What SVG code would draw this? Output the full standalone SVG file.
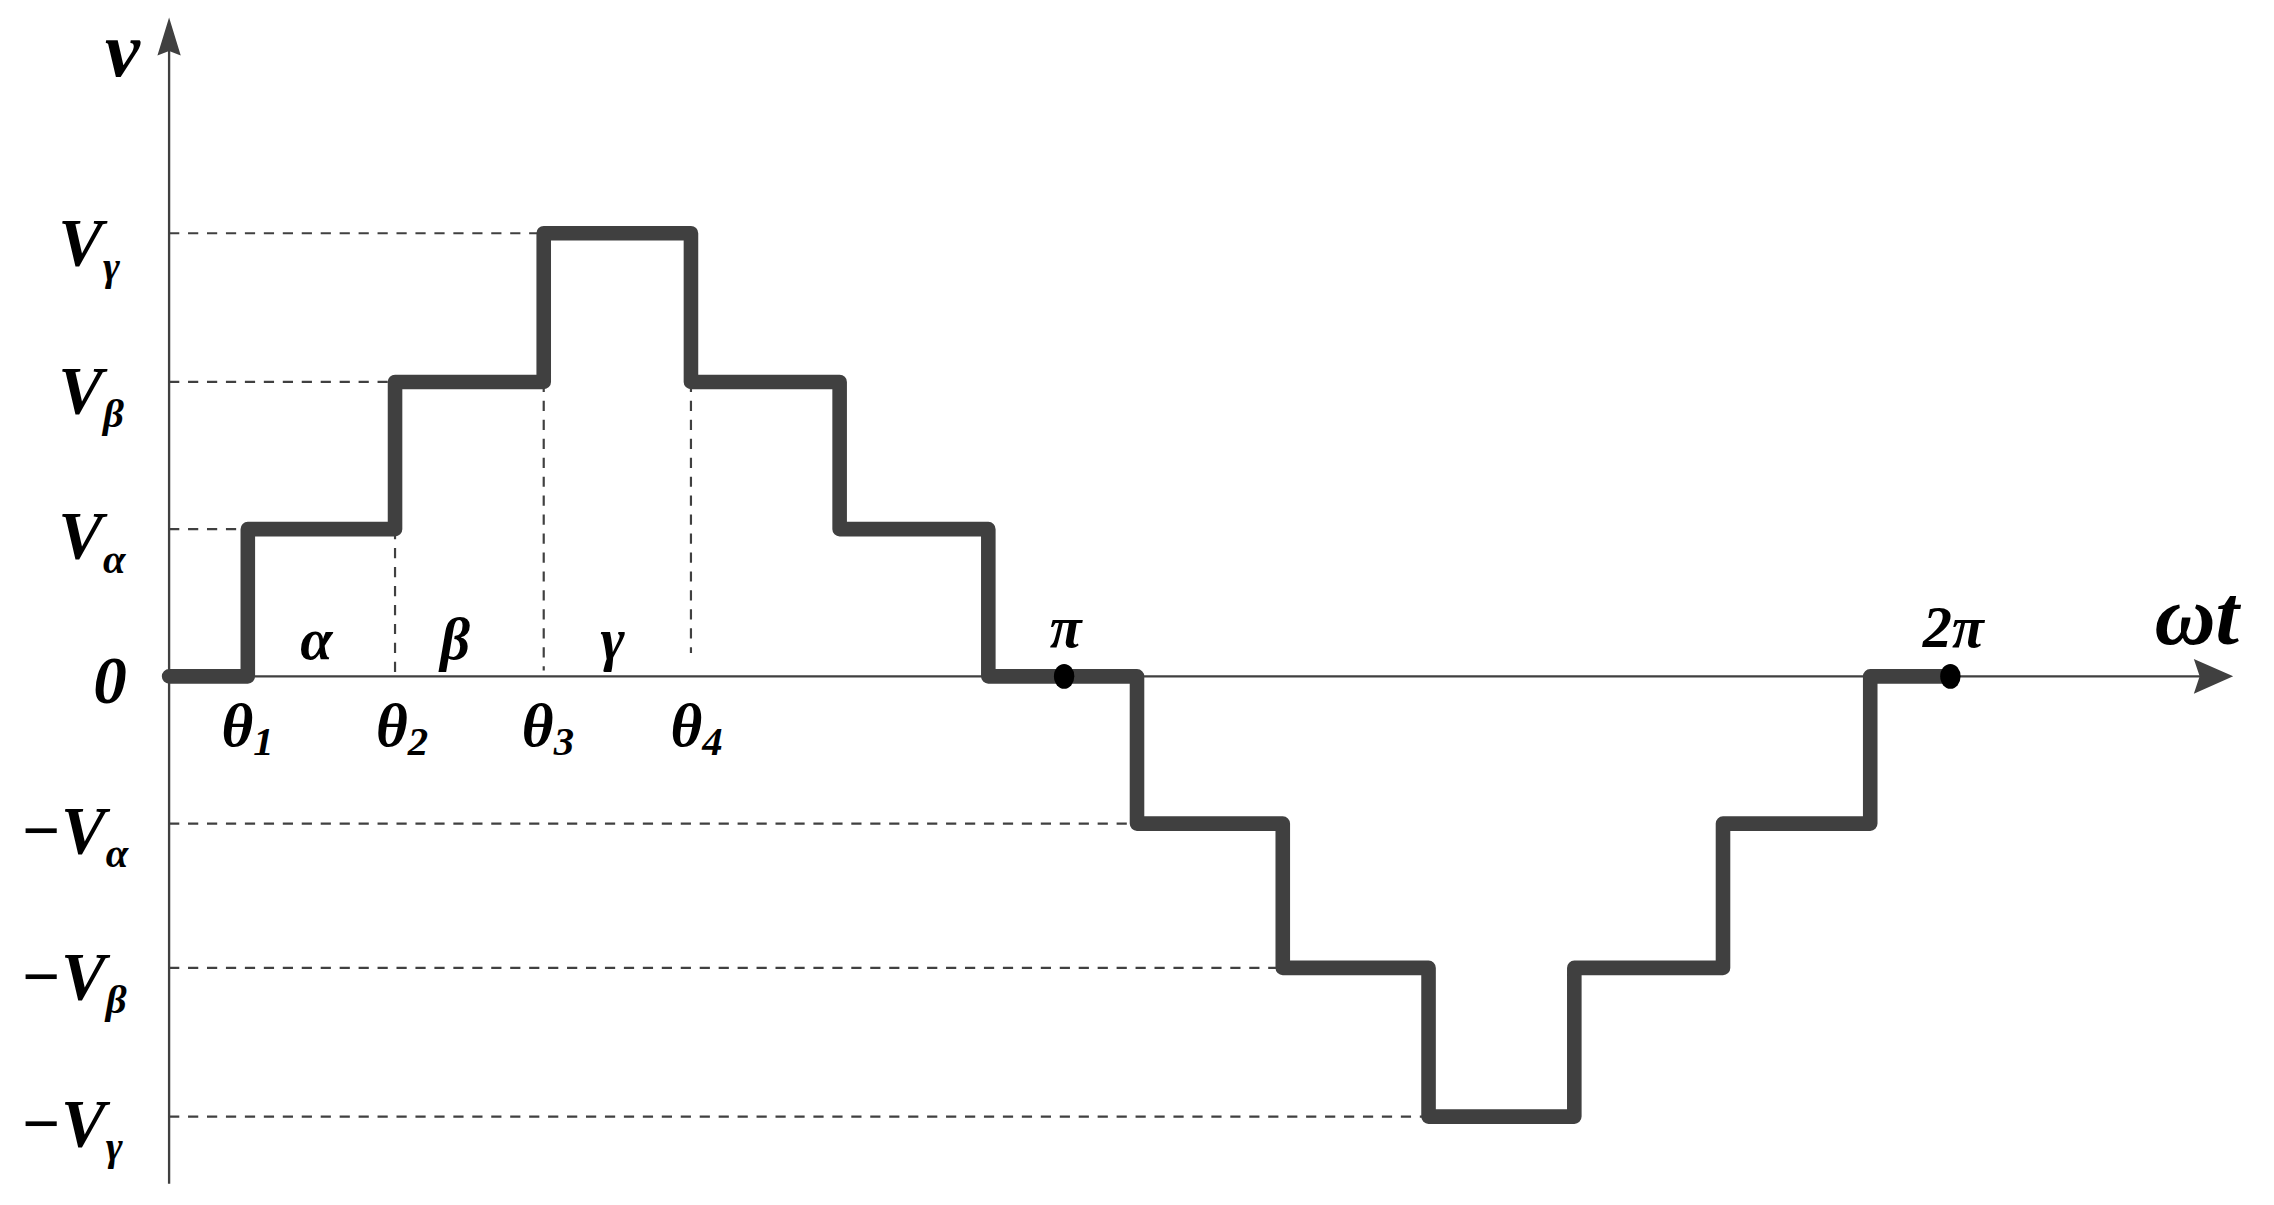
<svg xmlns="http://www.w3.org/2000/svg" width="2274" height="1205" viewBox="0 0 2274 1205">
<style>
.ax{stroke:#404040;stroke-width:1.6;fill:none}
.dash{stroke:#404040;stroke-width:1.5;stroke-dasharray:7,6;fill:none}
.wave{stroke:#404040;stroke-width:10;fill:none;stroke-linejoin:round;stroke-linecap:round}
.t{font-family:"Liberation Serif",serif;font-style:italic;font-weight:bold;fill:#000}
</style>
<rect width="2274" height="1205" fill="#fff"/>
<g transform="scale(1.4577)">
<g id="axes">
<line class="ax" x1="116" y1="812" x2="116" y2="30"/>
<polygon points="108,38 116,12 124,38 116,35" fill="#404040"/>
<line class="ax" x1="116" y1="464" x2="1515" y2="464"/>
<polygon points="1505,452 1532,464 1505,476 1509,464" fill="#404040"/>
</g>
<g id="connectors">
<path class="dash" d="M116,160H373M116,262H271M116,363H170M116,565H780M116,664H880M116,766H980"/>
<path class="dash" d="M271,363V464M373,262V460M474,262V448"/>
</g>
<g id="waveform">
<path class="wave" d="M116,464H170V363H271V262H373V160H474V262H576V363H678V464H780V565H880V664H980V766H1080V664H1182V565H1283V464H1338"/>
<ellipse cx="730" cy="464" rx="7" ry="8.5" fill="#000"/>
<ellipse cx="1338" cy="464" rx="7" ry="8.5" fill="#000"/>
</g>
<g id="labels" class="t">
<text x="72" y="52" font-size="54">v</text>
<text x="40" y="182" font-size="46">V<tspan font-size="28" dy="10">γ</tspan></text>
<text x="40" y="283" font-size="46">V<tspan font-size="28" dy="10">β</tspan></text>
<text x="40" y="383" font-size="46">V<tspan font-size="28" dy="10">α</tspan></text>
<text x="64" y="482" font-size="46">0</text>
<text x="14" y="585" font-size="46">−V<tspan font-size="28" dy="10">α</tspan></text>
<text x="14" y="685" font-size="46">−V<tspan font-size="28" dy="10">β</tspan></text>
<text x="14" y="786" font-size="46">−V<tspan font-size="28" dy="10">γ</tspan></text>
<text x="152" y="512" font-size="42">θ<tspan font-size="28" dy="6">1</tspan></text>
<text x="258" y="512" font-size="42">θ<tspan font-size="28" dy="6">2</tspan></text>
<text x="358" y="512" font-size="42">θ<tspan font-size="28" dy="6">3</tspan></text>
<text x="460" y="512" font-size="42">θ<tspan font-size="28" dy="6">4</tspan></text>
<text x="206" y="452" font-size="40">α</text>
<text x="302" y="452" font-size="40">β</text>
<text x="412" y="452" font-size="40">γ</text>
<text x="731" y="444" font-size="40" text-anchor="middle">π</text>
<text x="1340" y="444" font-size="40" text-anchor="middle">2π</text>
<text x="1478" y="442" font-size="58">ωt</text>
</g>
</g>
</svg>
